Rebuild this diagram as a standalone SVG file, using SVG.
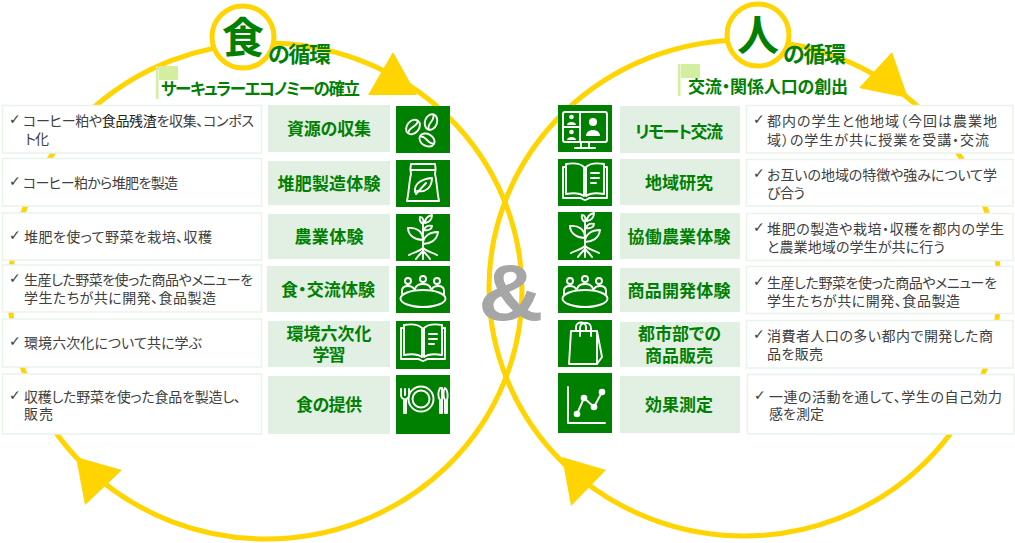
<svg xmlns="http://www.w3.org/2000/svg" xmlns:xlink="http://www.w3.org/1999/xlink" width="1015" height="543" viewBox="0 0 1015 543">
<style>
text{font-family:"Noto Sans CJK JP","Noto Sans",sans-serif;font-feature-settings:"palt"}
.ring{fill:none;stroke:#FFD400;stroke-width:5}
.head{fill:#FFD400}
.badge{fill:#fff;stroke:#FFD400;stroke-width:5}
.box{fill:#fff;stroke:#E8F3EA;stroke-width:1.5}
.mid{fill:#E2F0E4}
.ico{fill:#008000}
.i{fill:none;stroke:#fff;stroke-width:1.9;stroke-linecap:round;stroke-linejoin:round}
.f{fill:#fff;stroke:none}
.t{font-size:14px;fill:#404040}
.c{font-family:"DejaVu Sans",sans-serif;font-size:14px;fill:#404040}
.m{font-size:17px;font-weight:700;fill:#008000;text-anchor:middle}
.h{font-weight:700;fill:#008000}
.flag{fill:#D4EE9F}
</style>
<defs>
<g id="seed"><path class="i" d="M27 45V9M27 26C20 26 12 22 12 14C20 13 27 17 27 26ZM27 30C33 30 41 27 42 18C34 18 27 22 27 30ZM29 9C29 5 32 2 36 1C36 5 34 8 29 9ZM27 10C25 9 23 6 24 3C27 3 28 6 27 10ZM28 16C29 12 33 11 36 12C36 15 32 17 28 16ZM27 34C23 38 18 38 13 41M27 34C31 38 36 38 41 41M27 37C24 40 22 42 20 45M27 37C30 40 32 42 34 45"/></g>
<g id="table"><ellipse class="i" cx="27" cy="32.500" rx="22.500" ry="8.500"/><circle class="i" cx="12" cy="15" r="3"/><circle class="i" cx="27" cy="13" r="3"/><circle class="i" cx="41" cy="15" r="3"/><path class="i" d="M6 28V25C6 21 9 20 12 20C15 20 17 21 18 23M19 23C20 19 23 18 27 18C31 18 34 19 35 23M36 23C37 21 39 20 42 20C45 20 48 21 48 25V28"/></g>
<g id="book"><path class="i" d="M8 7H5V38H22C24 38 25 40 27 40C29 40 30 38 32 38H49V7H46M8 4C14 3 22 3 26 7V36C22 33 14 33 8 34ZM46 4C40 3 32 3 28 7V36C32 33 40 33 46 34Z"/><path class="i" d="M33 13H41M33 18H41M33 23H38"/></g>
</defs>

<g id="connectors">
<ellipse class="ring" cx="266" cy="291" rx="256" ry="248"/>
<ellipse class="ring" cx="744" cy="288" rx="255" ry="248"/>
<polygon class="head" points="393,52 417,95 368,95"/>
<polygon class="head" points="892,52 908,98 859,88"/>
<polygon class="head" points="76,457 122,470 85,505"/>
<polygon class="head" points="562,457 606,470 571,506"/>
</g>

<g id="title-food">
<circle class="badge" cx="243" cy="37" r="31"/>
<text class="h" x="243" y="53" font-size="42" text-anchor="middle">食</text>
<text class="h" x="268" y="62" font-size="22" textLength="63">の循環</text>
<rect class="flag" x="156" y="66" width="2.500" height="33"/>
<rect class="flag" x="159" y="66" width="19" height="14"/>
<text class="h" x="161" y="95" font-size="16.500" textLength="199">サーキュラーエコノミーの確立</text>
</g>
<g id="title-people">
<circle class="badge" cx="758" cy="35" r="31"/>
<text class="h" x="758" y="51" font-size="42" text-anchor="middle">人</text>
<text class="h" x="783" y="62" font-size="22" textLength="63">の循環</text>
<rect class="flag" x="678" y="64" width="2.500" height="32"/>
<rect class="flag" x="681" y="64" width="19" height="14"/>
<text class="h" x="688" y="93" font-size="17" textLength="160">交流・関係人口の創出</text>
</g>
<g id="ampersand"><text transform="translate(511 320) scale(1.13 1)" font-size="80" font-weight="700" text-anchor="middle" fill="#A6A6A6" style="font-family:'Liberation Sans',sans-serif">&amp;</text></g>

<g id="food-1">
<rect class="box" x="2.500" y="105.500" width="259" height="47.500"/>
<text class="c" x="9" y="124">✓</text>
<text class="t" x="23" y="126" textLength="231">コーヒー粕や<tspan fill="#222">食品残渣</tspan>を収集、コンポス</text>
<text class="t" x="25" y="144" textLength="24">ト化</text>
<rect class="mid" x="268" y="105" width="122" height="47"/>
<text class="m" x="329" y="135" textLength="84">資源の収集</text>
<rect class="ico" x="396" y="106" width="54" height="47"/>
<g transform="translate(396 106)"><g transform="rotate(-50 17 21)"><ellipse class="i" cx="17" cy="21" rx="8" ry="6"/><path class="i" d="M10 21C14 18 20 24 24 21"/></g><g transform="rotate(-70 35 16)"><ellipse class="i" cx="35" cy="16" rx="8" ry="6"/><path class="i" d="M28 16C32 13 38 19 42 16"/></g><g transform="rotate(30 31 34)"><ellipse class="i" cx="31" cy="34" rx="8" ry="6"/><path class="i" d="M24 34C28 31 34 37 38 34"/></g></g>
</g>
<g id="food-2">
<rect class="box" x="2.500" y="158.500" width="259" height="47.500"/>
<text class="c" x="9" y="186">✓</text>
<text class="t" x="23" y="188" textLength="155">コーヒー粕から堆肥を製造</text>
<rect class="mid" x="268" y="161" width="122" height="44"/>
<text class="m" x="329" y="190" textLength="103">堆肥製造体験</text>
<rect class="ico" x="396" y="160" width="54" height="47"/>
<g transform="translate(396 160)"><path class="i" d="M15 4H39M15 4C14 8 14 10 15 14C13 22 13 32 11 41H43C41 32 41 22 39 14C40 10 40 8 39 4M15 10H39"/><path class="i" d="M19 32C18 23 26 19 36 18C36 27 30 33 21 31M20 34L30 23"/></g>
</g>
<g id="food-3">
<rect class="box" x="2.500" y="213" width="259" height="47"/>
<text class="c" x="9" y="240">✓</text>
<text class="t" x="24" y="242" textLength="188">堆肥を使って野菜を栽培、収穫</text>
<rect class="mid" x="268" y="214" width="122" height="45"/>
<text class="m" x="329" y="243" textLength="69">農業体験</text>
<rect class="ico" x="396" y="214" width="54" height="47"/>
<use xlink:href="#seed" href="#seed" transform="translate(396 214)"/>
</g>
<g id="food-4">
<rect class="box" x="2.500" y="265" width="259" height="47"/>
<text class="c" x="9" y="283">✓</text>
<text class="t" x="24" y="285" textLength="229">生産した野菜を使った商品やメニューを</text>
<text class="t" x="24" y="303" textLength="192">学生たちが共に開発、食品製造</text>
<rect class="mid" x="267" y="266" width="122" height="46"/>
<text class="m" x="328" y="296" textLength="94">食・交流体験</text>
<rect class="ico" x="396" y="266" width="54" height="47"/>
<use xlink:href="#table" href="#table" transform="translate(396 266)"/>
</g>
<g id="food-5">
<rect class="box" x="2.500" y="319" width="259" height="48"/>
<text class="c" x="9" y="346">✓</text>
<text class="t" x="24" y="348" textLength="178">環境六次化について共に学ぶ</text>
<rect class="mid" x="268" y="321" width="122" height="46"/>
<text class="m" x="329" y="340" textLength="85">環境六次化</text>
<text class="m" x="329" y="361" textLength="33">学習</text>
<rect class="ico" x="396" y="321" width="54" height="48"/>
<use xlink:href="#book" href="#book" transform="translate(396 321)"/>
</g>
<g id="food-6">
<rect class="box" x="2.500" y="374" width="259" height="60"/>
<text class="c" x="9" y="400">✓</text>
<text class="t" x="24" y="402" textLength="217">収穫した野菜を使った食品を製造し、</text>
<text class="t" x="24" y="419" textLength="29">販売</text>
<rect class="mid" x="268" y="376" width="122" height="58"/>
<text class="m" x="329" y="411" textLength="66">食の提供</text>
<rect class="ico" x="396" y="375" width="54" height="59"/>
<g transform="translate(396 375)"><circle class="i" cx="25" cy="24" r="12.500"/><circle class="i" cx="25" cy="24" r="8.500"/><path class="i" d="M5 14V20C5 23 7 24 8 24V38H10V24C11 24 13 23 13 20V14M9 14V20"/><path class="i" d="M44 13C42 17 42 22 44 25V38H46V13ZM49 13C47 15 47 22 49 25V38H51V25C52 22 52 15 49 13Z"/></g>
</g>

<g id="people-1">
<rect class="ico" x="558" y="105" width="54" height="47"/>
<g transform="translate(558 105)"><rect class="i" x="5" y="7" width="44" height="30" rx="2"/><path class="i" d="M22 7V37M5 22H22"/><path class="i" d="M23 37V42M31 37V42M17 43H37"/><circle class="f" cx="13.500" cy="12" r="2.300"/><path class="f" d="M9 20C9 16 18 16 18 20Z"/><circle class="f" cx="13.500" cy="27" r="2.300"/><path class="f" d="M9 35C9 31 18 31 18 35Z"/><circle class="f" cx="35" cy="17" r="4"/><path class="f" d="M28 31C28 23 42 23 42 31Z"/></g>
<rect class="mid" x="620" y="106" width="120" height="47"/>
<text class="m" x="679" y="138" textLength="88">リモート交流</text>
<rect class="box" x="746.500" y="105.500" width="266.500" height="47.500"/>
<text class="c" x="753" y="124">✓</text>
<text class="t" x="767" y="126" textLength="230">都内の学生と他地域（今回は農業地</text>
<text class="t" x="767" y="145" textLength="222">域）の学生が共に授業を受講・交流</text>
</g>
<g id="people-2">
<rect class="ico" x="558" y="159" width="54" height="47"/>
<use xlink:href="#book" href="#book" transform="translate(558 160)"/>
<rect class="mid" x="620" y="159" width="120" height="46"/>
<text class="m" x="679" y="189" textLength="68">地域研究</text>
<rect class="box" x="746.500" y="159.500" width="266.500" height="46.500"/>
<text class="c" x="753" y="178">✓</text>
<text class="t" x="767" y="180" textLength="230">お互いの地域の特徴や強みについて学</text>
<text class="t" x="767" y="198" textLength="38">び合う</text>
</g>
<g id="people-3">
<rect class="ico" x="558" y="212" width="54" height="48"/>
<use xlink:href="#seed" href="#seed" transform="translate(558 212)"/>
<rect class="mid" x="620" y="213" width="120" height="46"/>
<text class="m" x="679" y="243" textLength="103">協働農業体験</text>
<rect class="box" x="746.500" y="213.500" width="266.500" height="47"/>
<text class="c" x="753" y="232">✓</text>
<text class="t" x="767" y="234" textLength="237">堆肥の製造や栽培・収穫を都内の学生</text>
<text class="t" x="767" y="252" textLength="178">と農業地域の学生が共に行う</text>
</g>
<g id="people-4">
<rect class="ico" x="558" y="266" width="54" height="47"/>
<use xlink:href="#table" href="#table" transform="translate(558 266)"/>
<rect class="mid" x="620" y="268" width="120" height="44"/>
<text class="m" x="679" y="297" textLength="103">商品開発体験</text>
<rect class="box" x="746.500" y="266.500" width="266.500" height="47"/>
<text class="c" x="753" y="286">✓</text>
<text class="t" x="767" y="288" textLength="230">生産した野菜を使った商品やメニューを</text>
<text class="t" x="767" y="306" textLength="193">学生たちが共に開発、食品製造</text>
</g>
<g id="people-5">
<rect class="ico" x="558" y="320" width="54" height="47"/>
<g transform="translate(558 320)"><path class="i" d="M13 11H39L44 37L39 44H11ZM39 44L39 11M22 16V8C22 1 33 1 33 8V16M18 11V7C18 1 28 1 28 7V11"/></g>
<rect class="mid" x="620" y="322" width="120" height="45"/>
<text class="m" x="679.500" y="340" textLength="83">都市部での</text>
<text class="m" x="679" y="362" textLength="68">商品販売</text>
<rect class="box" x="746.500" y="320.500" width="266.500" height="47.500"/>
<text class="c" x="753" y="339">✓</text>
<text class="t" x="767" y="341" textLength="226">消費者人口の多い都内で開発した商</text>
<text class="t" x="767" y="359" textLength="56">品を販売</text>
</g>
<g id="people-6">
<rect class="ico" x="558" y="373" width="54" height="60"/>
<g transform="translate(558 373)"><path class="i" d="M10 14V50H47" stroke-width="2.400"/><path class="i" d="M19 41L26 25L36 34L44 19"/><circle class="f" cx="19" cy="41" r="3.300"/><circle class="f" cx="26" cy="25" r="3.300"/><circle class="f" cx="36" cy="34" r="3.300"/><circle class="f" cx="44" cy="19" r="3.300"/></g>
<rect class="mid" x="620" y="376" width="120" height="57"/>
<text class="m" x="679" y="411" textLength="68">効果測定</text>
<rect class="box" x="747.500" y="374.500" width="266.500" height="59.500"/>
<text class="c" x="754" y="400">✓</text>
<text class="t" x="769" y="402" textLength="233">一連の活動を通して、学生の自己効力</text>
<text class="t" x="769" y="419" textLength="55">感を測定</text>
</g>
</svg>
